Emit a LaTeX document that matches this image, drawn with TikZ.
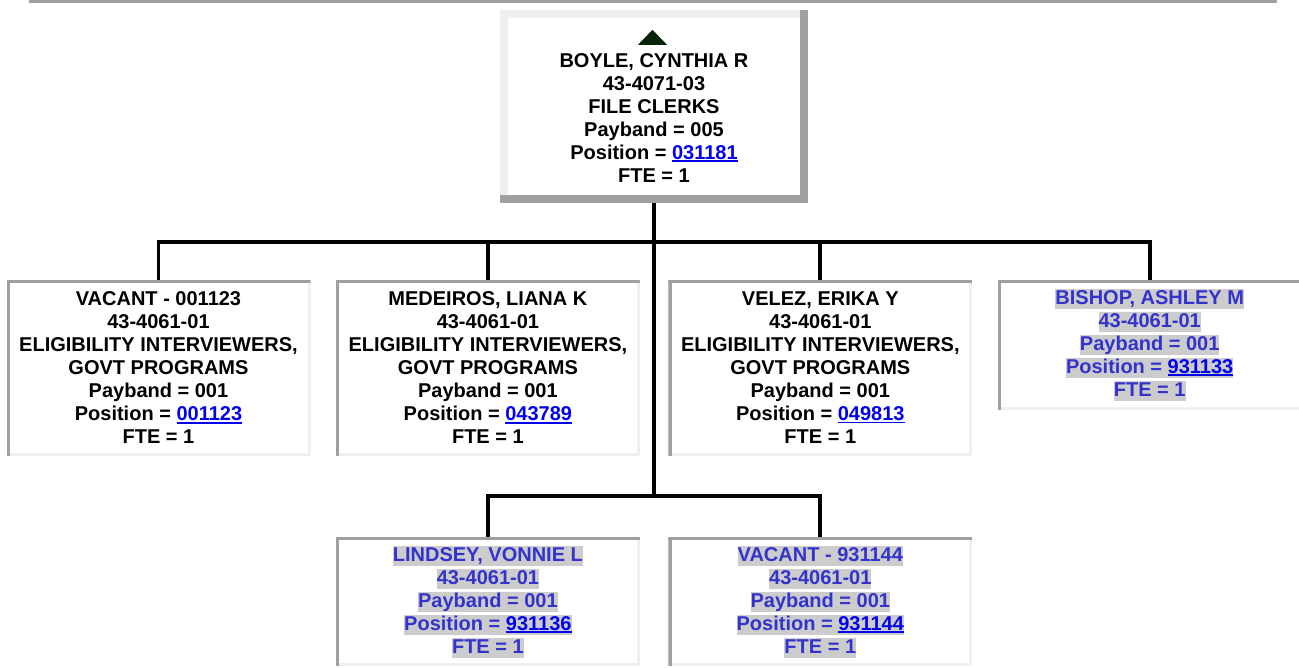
\documentclass[tikz,border=0pt]{standalone}
\usepackage{fontspec}
\setmainfont{Liberation Sans}
\usepackage{xcolor}
\usepackage{tikz}
\usetikzlibrary{positioning}
\definecolor{edgedark}{RGB}{160,160,160}
\definecolor{edgelight}{RGB}{239,239,239}
\definecolor{hlgray}{RGB}{204,204,204}
\definecolor{textblue}{RGB}{51,51,204}
\definecolor{linkblue}{RGB}{0,0,238}
\definecolor{crestgreen}{RGB}{8,36,8}
\newcommand{\poslink}[1]{{\color{linkblue}\setbox0\hbox{#1}\rlap{\rule[-2.6pt]{\wd0}{1.7pt}}\box0}}
\newcommand{\hilite}[1]{{\setlength{\fboxsep}{0pt}\colorbox{hlgray}{\rule[-4.5pt]{0pt}{20pt}#1}}}
\tikzset{
  chartfont/.style={font=\bfseries\fontsize{20}{23}\selectfont},
  outsetbox/.style={rectangle, fill=white, inner sep=0pt, align=center, chartfont, path picture={
      \fill[edgedark] (path picture bounding box.south west) rectangle (path picture bounding box.north east);
      \fill[edgelight] (path picture bounding box.north west) rectangle ([xshift=-8pt,yshift=8pt]path picture bounding box.south east);
      \fill[white] ([xshift=8pt,yshift=-8pt]path picture bounding box.north west) rectangle ([xshift=-8pt,yshift=8pt]path picture bounding box.south east);
    }},
  insetbox/.style={rectangle, fill=white, inner sep=0pt, minimum width=304pt, align=center, chartfont, path picture={
      \fill[edgelight] (path picture bounding box.south west) rectangle (path picture bounding box.north east);
      \fill[edgedark] (path picture bounding box.south west) rectangle ([xshift=3.5pt]path picture bounding box.north west);
      \fill[edgedark] ([yshift=-3pt]path picture bounding box.north west) rectangle (path picture bounding box.north east);
      \fill[white] ([xshift=3.5pt,yshift=-3pt]path picture bounding box.north west) rectangle ([xshift=-3pt,yshift=3pt]path picture bounding box.south east);
    }},
  staffbox/.style={insetbox, minimum height=176pt},
  newbox/.style={insetbox, minimum height=129pt, text=textblue},
  branch/.style={line width=3.8pt},
  topbar/.style={draw=edgedark, line width=3pt},
}
\begin{document}
\begin{tikzpicture}[x=1pt, y=-1pt, node distance=25pt]
  \useasboundingbox (0,0) rectangle (1299,667);
  \draw[topbar] (29,1.5) -- (1277,1.5);

  \node[outsetbox, minimum width=308pt, minimum height=193pt] (boyle) at (654,106.5) {\phantom{X}\\BOYLE, CYNTHIA R\\43-4071-03\\FILE CLERKS\\Payband = 005\\Position = \poslink{031181}\\FTE = 1};
  \fill[crestgreen] ([xshift=-16pt,yshift=-35pt]boyle.north) -- ++(29,0) -- ++(-14.5,-15) -- cycle;

  \node[staffbox] (vacanta) at (158.5,368) {VACANT - 001123\\43-4061-01\\ELIGIBILITY INTERVIEWERS,\\GOVT PROGRAMS\\Payband = 001\\Position = \poslink{001123}\\FTE = 1};

  \node[staffbox, right=25pt of vacanta] (medeiros) {MEDEIROS, LIANA K\\43-4061-01\\ELIGIBILITY INTERVIEWERS,\\GOVT PROGRAMS\\Payband = 001\\Position = \poslink{043789}\\FTE = 1};

  \node[staffbox, right=28pt of medeiros] (velez) {VELEZ, ERIKA Y\\43-4061-01\\ELIGIBILITY INTERVIEWERS,\\GOVT PROGRAMS\\Payband = 001\\Position = \poslink{049813}\\FTE = 1};

  \node[newbox, minimum height=130pt, right=25pt of velez.north east, anchor=north west] (bishop) {\hilite{BISHOP, ASHLEY M}\\\hilite{43-4061-01}\\\hilite{Payband = 001}\\\hilite{Position = \poslink{931133}}\\\hilite{FTE = 1}};

  \node[newbox, below=81pt of medeiros] (lindsey) {\hilite{LINDSEY, VONNIE L}\\\hilite{43-4061-01}\\\hilite{Payband = 001}\\\hilite{Position = \poslink{931136}}\\\hilite{FTE = 1}};

  \node[newbox, below=81pt of velez] (vacantb) {\hilite{VACANT - 931144}\\\hilite{43-4061-01}\\\hilite{Payband = 001}\\\hilite{Position = \poslink{931144}}\\\hilite{FTE = 1}};

  \draw[branch] (boyle.south) -- ++(0,39) -| (vacanta.north);
  \draw[branch] (boyle.south) -- ++(0,39) -| (medeiros.north);
  \draw[branch] (boyle.south) -- ++(0,39) -| (velez.north);
  \draw[branch] (boyle.south) -- ++(0,39) -| (bishop.north);
  \draw[branch] (boyle.south) -- ++(0,293) -| (lindsey.north);
  \draw[branch] (boyle.south) -- ++(0,293) -| (vacantb.north);
\end{tikzpicture}
\end{document}
